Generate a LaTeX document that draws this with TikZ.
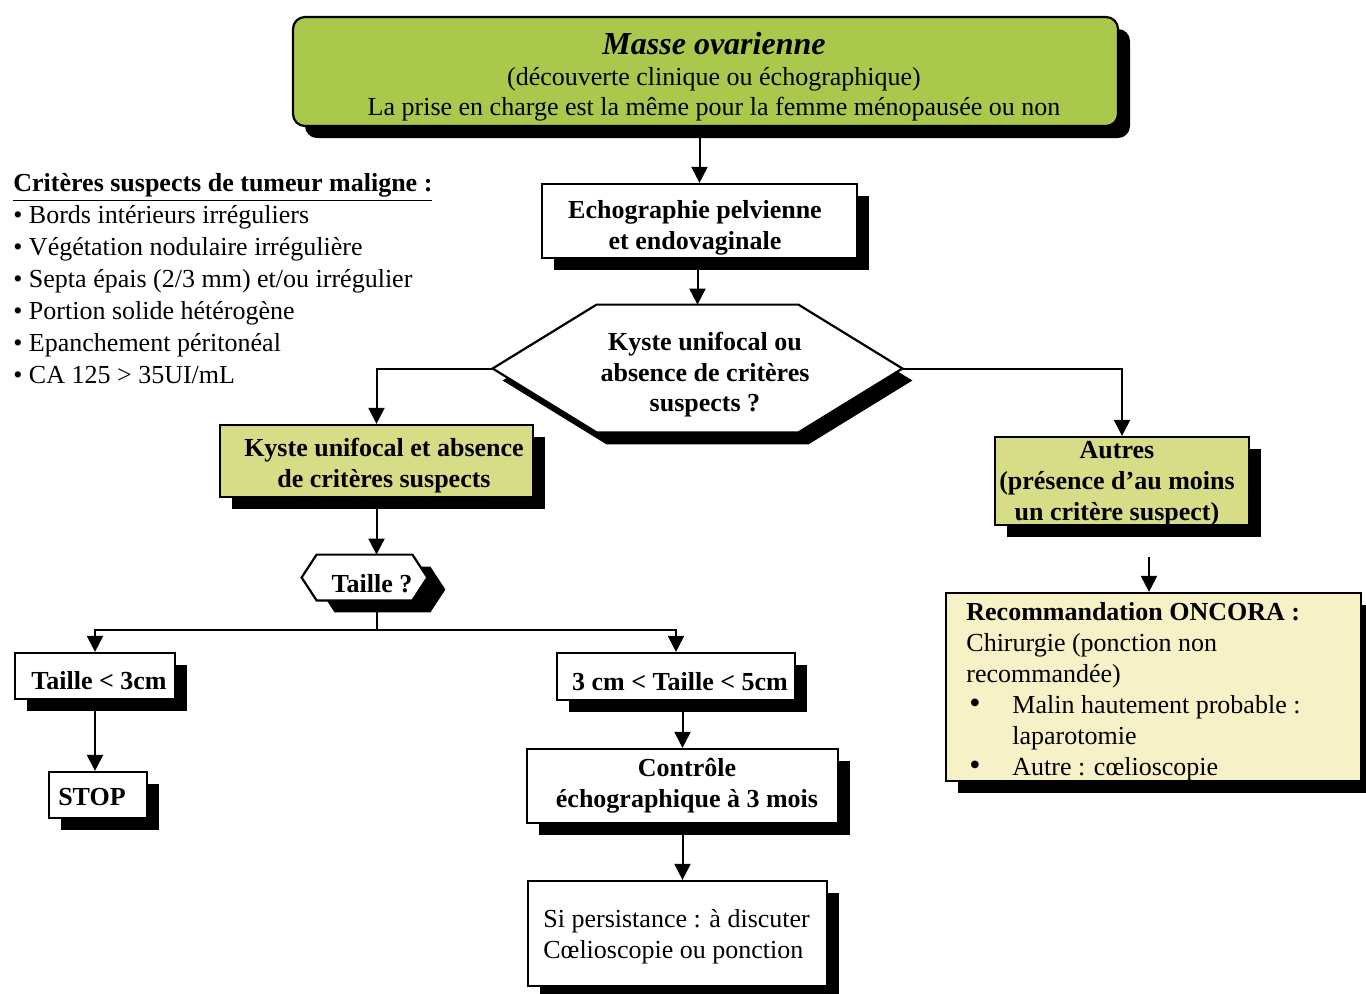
\documentclass[tikz,border=0pt]{standalone}
\usepackage{fontspec}
\setmainfont{Liberation Serif}
\usetikzlibrary{arrows.meta,shadows,fit,calc}
\definecolor{topgreen}{RGB}{170,200,75}
\definecolor{palegreen}{RGB}{214,221,134}
\definecolor{paleyellow}{RGB}{246,241,198}
\newcommand\myfs{\fontsize{13}{15.5}\selectfont}
\newcommand\bigbul{{\fontsize{16}{15.5}\selectfont•}}
\begin{document}
\begin{tikzpicture}[x=0.5pt,y=-0.5pt,
  box/.style={draw=black, line width=1.1pt, fill=white, inner sep=0pt,
    drop shadow={shadow xshift=6pt, shadow yshift=-6pt, opacity=1, fill=black}},
  txt/.style={inner sep=0pt, align=center, font=\myfs\bfseries},
  plain/.style={inner sep=0pt, align=left, font=\myfs},
  conn/.style={line width=1pt, -{Triangle[width=8pt,length=8pt]}},
  link/.style={line width=1pt}]
\useasboundingbox (0,0) rectangle (1366,993);

% top box
\node[box, fill=topgreen, rounded corners=6pt, fit={(293,17)(1118,126)}] (top) {};
\node[inner sep=0pt, font=\fontsize{16}{18}\selectfont\bfseries\itshape] (t1) at (714,44) {Masse ovarienne};
\node[inner sep=0pt, font=\myfs] (t2) at (714,79) {(découverte clinique ou échographique)};
\node[inner sep=0pt, font=\myfs] (t3l) at (714,109) {La prise en charge est la même pour la femme ménopausée ou non};

% criteria list
\node[plain, font=\fontsize{13}{16}\selectfont, anchor=west] (crit) at (13,279) {\underline{\textbf{Critères suspects de tumeur maligne :}}\\
• Bords intérieurs irréguliers\\
• Végétation nodulaire irrégulière\\
• Septa épais (2/3 mm) et/ou irrégulier\\
• Portion solide hétérogène\\
• Epanchement péritonéal\\
• CA 125 > 35UI/mL};

% echographie
\node[box, fit={(542,184)(857,258)}] (echo) {};
\node[txt] (echoT) at (695,228) {Echographie pelvienne\\et endovaginale};

% big hexagon
\node[inner sep=0pt, minimum width=204.5pt, minimum height=63.5pt] (hex) at (697.5,368.5) {};
\fill[black] ($(hex.west)+(10,12)$) -- ($(hex.north west)+(114,12)$) -- ($(hex.north east)+(-94,12)$)
  -- ($(hex.east)+(10,12)$) -- ($(hex.south east)+(-94,12)$) -- ($(hex.south west)+(114,12)$) -- cycle;
\draw[line width=1.1pt, fill=white] (hex.west) -- ($(hex.north west)+(104,0)$) -- ($(hex.north east)+(-104,0)$)
  -- (hex.east) -- ($(hex.south east)+(-104,0)$) -- ($(hex.south west)+(104,0)$) -- cycle;
\node[txt, font=\fontsize{13}{15.25}\selectfont\bfseries] (hexT) at (705,375) {Kyste unifocal ou\\absence de critères\\suspects ?};

% kyste box
\node[box, fill=palegreen, fit={(220,425)(533,497)}] (kyste) {};
\node[txt] (kysteT) at (384,466) {Kyste unifocal et absence\\de critères suspects};

% autres box
\node[box, fill=palegreen, fit={(995,437)(1249,525)}] (autres) {};
\node[txt] (autresT) at (1117,484) {Autres\\(présence d’au moins\\un critère suspect)};

% taille hexagon
\node[inner sep=0pt, minimum width=62.5pt, minimum height=22.5pt] (tq) at (364.5,577.5) {};
\fill[black] ($(tq.west)+(18,12)$) -- ($(tq.north west)+(33,12)$) -- ($(tq.north east)+(3,12)$)
  -- ($(tq.east)+(18,12)$) -- ($(tq.south east)+(3,12)$) -- ($(tq.south west)+(33,12)$) -- cycle;
\draw[line width=1.1pt, fill=white] (tq.west) -- ($(tq.north west)+(15,0)$) -- ($(tq.north east)+(-15,0)$)
  -- (tq.east) -- ($(tq.south east)+(-15,0)$) -- ($(tq.south west)+(15,0)$) -- cycle;
\node[txt] (tqT) at (372,584) {Taille ?};

% size boxes
\node[box, fit={(15,653)(175,699)}] (t3) {};
\node[txt] (t3T) at (99,681) {Taille < 3cm};
\node[box, fit={(49,772)(147,818)}] (stop) {};
\node[txt] (stopT) at (92,797) {STOP};
\node[box, fit={(557,653)(795,700)}] (t5) {};
\node[txt] (t5T) at (680,682) {3 cm < Taille < 5cm};
\node[box, fit={(527,749)(838,823)}] (ctrl) {};
\node[txt] (ctrlT) at (687,786) {Contrôle\\échographique à 3 mois};
\node[box, fit={(528,881)(827,986)}] (last) {};
\node[plain, anchor=west] (lastT) at (543,937) {Si persistance : à discuter\\Cœlioscopie ou ponction};

% recommendation
\node[box, fill=paleyellow, fit={(946,593)(1361,781)}] (reco) {};
\node[plain, anchor=west] (recoT) at (966,692) {\textbf{Recommandation ONCORA :}\\
Chirurgie (ponction non\\
recommandée)\\
\hspace*{1.5pt}\makebox[21.5pt][l]{\bigbul}Malin hautement probable :\\
\hspace*{23pt}laparotomie\\
\hspace*{1.5pt}\makebox[21.5pt][l]{\bigbul}Autre : cœlioscopie};

% connectors
\draw[conn] (echo.north |- top.south) -- (echo.north);
\draw[conn] (hex.north |- echo.south) -- (hex.north);
\draw[conn] (hex.west) -| (kyste.north);
\draw[conn] (hex.east) -| (autres.north);
\draw[conn] (kyste.south) -- (kyste.south |- tq.north);
\coordinate (split) at (kyste.south |- 0,630);
\draw[link] (kyste.south |- tq.south) -- (split);
\draw[conn] (split) -| (t3.north);
\draw[conn] (split) -| (t5.north);
\draw[conn] (t3.south) -- (t3.south |- stop.north);
\draw[conn] (ctrl.north |- t5.south) -- (ctrl.north);
\draw[conn] (ctrl.south) -- (ctrl.south |- last.north);
\coordinate (fa) at (1149,557);
\draw[conn] (fa) -- (fa |- reco.north);
\end{tikzpicture}
\end{document}
